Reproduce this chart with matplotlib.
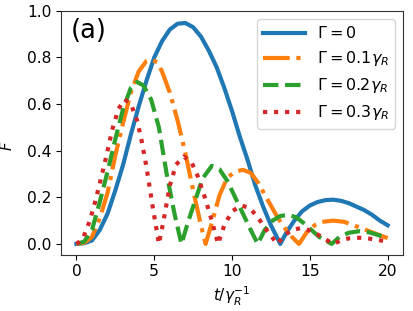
import matplotlib
matplotlib.use("Agg")
import matplotlib.pyplot as plt

t_g0 = [0, 0.5, 1, 1.5, 2, 2.5, 3, 3.5, 4, 4.5, 5, 5.5, 6, 6.5, 7, 7.5, 8, 8.5, 9, 9.5,
        10, 10.5, 11, 11.5, 12, 12.5, 13.1, 13.5, 14, 14.5, 15, 15.5, 16, 16.5, 17, 17.5,
        18, 18.5, 19, 19.5, 20]
F_g0 = [0, 0.003, 0.015, 0.06, 0.13, 0.23, 0.34, 0.47, 0.59, 0.70, 0.80, 0.87, 0.92, 0.945,
        0.948, 0.93, 0.89, 0.83, 0.76, 0.67, 0.57, 0.46, 0.36, 0.25, 0.16, 0.08, 0.0, 0.05,
        0.10, 0.14, 0.165, 0.18, 0.188, 0.19, 0.185, 0.175, 0.16, 0.145, 0.125, 0.10, 0.08]

t_g1 = [0, 0.5, 1, 1.5, 2, 2.5, 3, 3.5, 4, 4.5, 4.8, 5.2, 5.5, 6, 6.5, 7, 7.5, 8, 8.3, 8.7,
        9.2, 9.7, 10.2, 10.7, 11.2, 11.7, 12.2, 12.7, 13.2, 13.7, 14.3, 14.8, 15.3, 15.8,
        16.5, 17.2, 17.8, 18.5, 19, 19.5, 20]
F_g1 = [0, 0.005, 0.03, 0.11, 0.22, 0.38, 0.52, 0.65, 0.74, 0.785, 0.79, 0.78, 0.74, 0.65,
        0.53, 0.39, 0.23, 0.08, 0.0, 0.09, 0.21, 0.285, 0.31, 0.318, 0.305, 0.26, 0.20, 0.14,
        0.085, 0.04, 0.0, 0.05, 0.08, 0.095, 0.10, 0.095, 0.08, 0.063, 0.05, 0.037, 0.025]

t_g2 = [0, 0.5, 1, 1.5, 2, 2.5, 3, 3.5, 3.9, 4.3, 4.8, 5.3, 5.8, 6.3, 6.75, 7.2, 7.6, 8.1,
        8.7, 9.2, 9.7, 10.2, 10.7, 11.2, 11.65, 12.1, 12.6, 13.1, 13.6, 14.1, 14.6, 15.1,
        15.6, 16.4, 16.9, 17.5, 18.2, 18.8, 19.4, 20]
F_g2 = [0, 0.01, 0.06, 0.18, 0.31, 0.45, 0.58, 0.67, 0.695, 0.68, 0.62, 0.50, 0.30, 0.13,
        0.0, 0.10, 0.18, 0.28, 0.335, 0.32, 0.27, 0.20, 0.13, 0.06, 0.0, 0.06, 0.10, 0.12,
        0.125, 0.115, 0.09, 0.06, 0.03, 0.0, 0.03, 0.048, 0.055, 0.05, 0.038, 0.025]

t_g3 = [0, 0.4, 0.86, 1.2, 1.5, 1.9, 2.3, 2.7, 3.1, 3.5, 3.9, 4.2, 4.5, 4.9, 5.3, 5.6, 6.0,
        6.4, 6.9, 7.4, 7.8, 8.3, 8.7, 9.1, 9.5, 10.0, 10.6, 11.1, 11.6, 12.1, 12.5, 12.9,
        13.4, 13.9, 14.4, 14.9, 15.4, 16.0, 16.5, 17.0, 17.5, 18.0, 18.6, 19.3, 20]
F_g3 = [0, 0.02, 0.10, 0.18, 0.26, 0.37, 0.49, 0.58, 0.62, 0.60, 0.53, 0.44, 0.33, 0.16,
        0.0, 0.10, 0.25, 0.34, 0.375, 0.35, 0.29, 0.19, 0.10, 0.0, 0.08, 0.14, 0.165, 0.155,
        0.12, 0.07, 0.035, 0.0, 0.04, 0.06, 0.068, 0.06, 0.045, 0.02, 0.0, 0.015, 0.024,
        0.027, 0.025, 0.018, 0.01]

labels = [r"$\Gamma=0$", r"$\Gamma=0.1\gamma_R$", r"$\Gamma=0.2\gamma_R$", r"$\Gamma=0.3\gamma_R$"]
x_ticks = [0, 5, 10, 15, 20]
y_ticks = [0.0, 0.2, 0.4, 0.6, 0.8, 1.0]

fig = plt.figure(figsize=(4.14, 3.11), dpi=100)
ax = fig.add_axes([0.147, 0.180, 0.827, 0.785])

lw = 3.0
ax.plot(t_g0, F_g0, '-', color='tab:blue', lw=lw, label=labels[0])
ax.plot(t_g1, F_g1, '-.', color='tab:orange', lw=lw, label=labels[1])
ax.plot(t_g2, F_g2, '--', color='tab:green', lw=lw, label=labels[2])
ax.plot(t_g3, F_g3, ':', color='tab:red', lw=lw, label=labels[3])

ax.set_xlim(-1, 21)
ax.set_ylim(-0.0475, 1.0)
ax.set_xticks(x_ticks)
ax.set_yticks(y_ticks)
ax.set_xticklabels([str(v) for v in x_ticks])
ax.set_yticklabels([f"{v:.1f}" for v in y_ticks])
ax.tick_params(labelsize=11.2, pad=3)

for s in ax.spines.values():
    s.set_color('#333333')

ax.set_xlabel(r"$t/\gamma_R^{-1}$", fontsize=11)
ax.set_ylabel(r"$F$", fontsize=10.5)
ax.yaxis.set_label_coords(-0.133, 0.447)

ax.text(0.03, 0.97, "(a)", transform=ax.transAxes, fontsize=18.5, va='top', ha='left')

ax.legend(loc='upper right', fontsize=11.5, handlelength=2.6, handletextpad=0.75)

fig.savefig("out.png", dpi=100)
